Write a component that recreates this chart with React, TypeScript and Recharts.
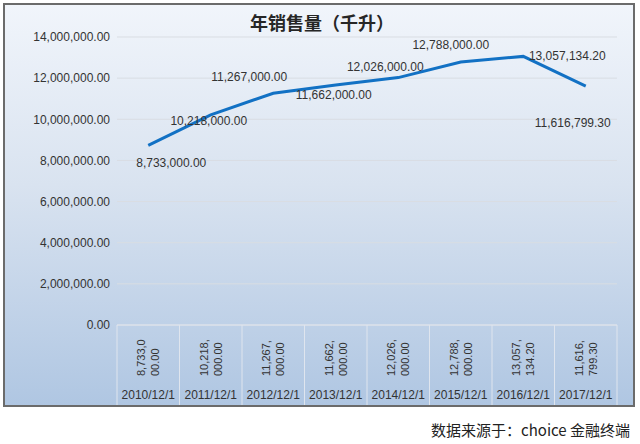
import { CartesianGrid, LabelList, Line, LineChart, XAxis, YAxis } from "recharts";

const categories = [
  "2010/12/1",
  "2011/12/1",
  "2012/12/1",
  "2013/12/1",
  "2014/12/1",
  "2015/12/1",
  "2016/12/1",
  "2017/12/1",
];
const sales = [8733000, 10218000, 11267000, 11662000, 12026000, 12788000, 13057134.2, 11616799.3];
const yTicks = [0, 2000000, 4000000, 6000000, 8000000, 10000000, 12000000, 14000000];

const data = categories.map((date, i) => ({ date, sales: sales[i] }));

// label offsets (dx, dy) from each point, as placed in the original
const LABEL_OFFSETS: [number, number][] = [
  [23, 18],
  [-2, 6],
  [-24, -16],
  [-2, 10],
  [-13, -11],
  [-10, -17],
  [44, 0],
  [-13, 37],
];

const W = 632;
const H = 404;
const TABLE_H = 82;
const MARGIN = { top: 34, right: 18, bottom: 0, left: 0 };
const Y_AXIS_W = 114;
const PLOT_W = W - MARGIN.right - Y_AXIS_W;
const BAND = PLOT_W / categories.length;
const FONT = "'Liberation Sans', Arial, sans-serif";
const TEXT = "#333333";
const TABLE_LINE = "#dfe5ee";

const fmt = (v: number) =>
  v.toLocaleString("en-US", { minimumFractionDigits: 2, maximumFractionDigits: 2 });

function PointLabel(props: any) {
  const { x, y, index, value } = props;
  if (x == null || y == null) return null;
  const [dx, dy] = LABEL_OFFSETS[index] ?? [0, 0];
  return (
    <text
      x={x + dx}
      y={y + dy}
      textAnchor="middle"
      dominantBaseline="central"
      fontSize={12}
      fontFamily={FONT}
      fill={TEXT}
    >
      {fmt(value)}
    </text>
  );
}

function TableTick(props: any) {
  const { x, payload, index } = props;
  const y = H - TABLE_H;
  const value = fmt(sales[index]);
  const line1 = value.slice(0, 7);
  const line2 = value.slice(7);
  const left = x - BAND / 2;
  const baseY = y + 51;
  return (
    <g>
      <line x1={left} y1={y} x2={left} y2={y + 80} stroke={TABLE_LINE} strokeWidth={1} />
      {index === categories.length - 1 && (
        <line x1={x + BAND / 2} y1={y} x2={x + BAND / 2} y2={y + 80} stroke={TABLE_LINE} strokeWidth={1} />
      )}
      <text
        x={x - 3}
        y={baseY}
        transform={`rotate(-90, ${x - 3}, ${baseY})`}
        fontSize={11}
        fontFamily={FONT}
        fill={TEXT}
      >
        {line1}
      </text>
      <text
        x={x + 11}
        y={baseY}
        transform={`rotate(-90, ${x + 11}, ${baseY})`}
        fontSize={11}
        fontFamily={FONT}
        fill={TEXT}
      >
        {line2}
      </text>
      <text x={x} y={y + 74} textAnchor="middle" fontSize={12} fontFamily={FONT} fill={TEXT}>
        {payload.value}
      </text>
    </g>
  );
}

export default function App() {
  return (
    <div style={{ position: "fixed", left: 0, top: 0, width: 640, height: 444, background: "#fff" }}>
      <div
        style={{
          position: "absolute",
          left: 3,
          top: 3,
          width: W,
          height: H,
          background: "linear-gradient(to bottom, #f1f5fb 0%, #d9e3f0 45%, #afc6e2 100%)",
        }}
      >
        <LineChart width={W} height={H} data={data} margin={MARGIN}>
          <CartesianGrid horizontal vertical={false} stroke="#d9dde3" />
          <XAxis
            dataKey="date"
            interval={0}
            padding={{ left: BAND / 2, right: BAND / 2 }}
            axisLine={{ stroke: TABLE_LINE }}
            tickLine={false}
            height={TABLE_H}
            tick={<TableTick />}
          />
          <YAxis
            width={Y_AXIS_W}
            domain={[0, 14000000]}
            ticks={yTicks}
            tickFormatter={fmt}
            axisLine={false}
            tickLine={false}
            tickSize={0}
            tickMargin={7}
            tick={{ fontSize: 12, fontFamily: FONT, fill: TEXT }}
          />
          <Line
            type="linear"
            dataKey="sales"
            stroke="#1271c4"
            strokeWidth={3}
            dot={false}
            activeDot={false}
            isAnimationActive={false}
          >
            <LabelList dataKey="sales" content={<PointLabel />} />
          </Line>
        </LineChart>
        <div
          style={{
            position: "absolute",
            left: 0,
            top: 8,
            width: W,
            textAlign: "center",
            paddingLeft: 6,
            boxSizing: "border-box",
            fontFamily: "'Noto Sans CJK SC', sans-serif",
            fontWeight: 700,
            fontSize: 18,
            lineHeight: "22px",
            color: "#262626",
          }}
        >
          年销售量（千升）
        </div>
        <div
          style={{
            position: "absolute",
            inset: 0,
            border: "2px solid #6b6b6b",
            pointerEvents: "none",
          }}
        />
      </div>
      <div
        style={{
          position: "absolute",
          right: 10,
          top: 420,
          fontFamily: "'Noto Sans CJK SC', sans-serif",
          fontSize: 15,
          lineHeight: "20px",
          color: "#222",
        }}
      >
        数据来源于：choice 金融终端
      </div>
    </div>
  );
}
